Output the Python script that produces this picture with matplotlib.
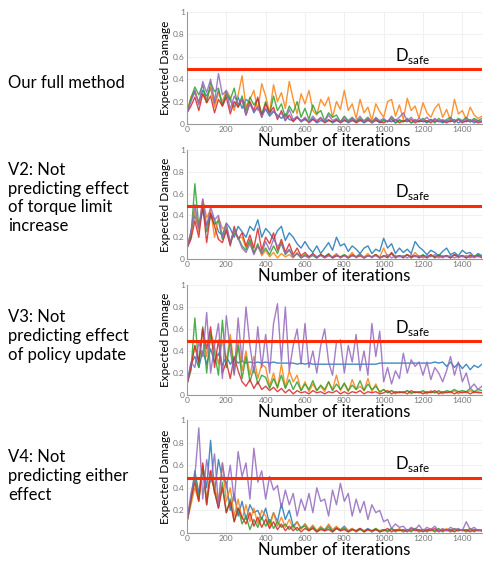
import matplotlib.pyplot as plt

# ================= DATA =================
ITERS = list(range(0, 1501, 20))

PANEL_LABELS = [
    "Our full method",
    "V2: Not\npredicting effect\nof torque limit\nincrease",
    "V3: Not\npredicting effect\nof policy update",
    "V4: Not\npredicting either\neffect",
]

D_SAFE = 0.49

# panel 1: our full method
P1_BLUE = [0.10, 0.22, 0.28, 0.20, 0.30, 0.25, 0.32, 0.18, 0.30, 0.17,
           0.26, 0.21, 0.15, 0.24, 0.14, 0.22, 0.19, 0.10, 0.16, 0.09,
           0.13, 0.07, 0.11, 0.08, 0.05, 0.09, 0.04, 0.03, 0.06, 0.02,
           0.04, 0.02, 0.05, 0.01, 0.03, 0.02, 0.04, 0.01, 0.03, 0.02,
           0.04, 0.01, 0.03, 0.02, 0.04, 0.01, 0.03, 0.02, 0.04, 0.01,
           0.03, 0.02, 0.04, 0.01, 0.03, 0.02, 0.04, 0.01, 0.03, 0.02,
           0.03, 0.01, 0.04, 0.02, 0.03, 0.01, 0.03, 0.02, 0.04, 0.01,
           0.03, 0.02, 0.04, 0.01, 0.03, 0.02]
P1_ORANGE = [0.10, 0.24, 0.30, 0.18, 0.27, 0.22, 0.33, 0.15, 0.28, 0.20,
             0.30, 0.24, 0.12, 0.26, 0.43, 0.15, 0.22, 0.30, 0.12, 0.36,
             0.25, 0.10, 0.35, 0.20, 0.28, 0.14, 0.38, 0.22, 0.09, 0.27,
             0.18, 0.30, 0.12, 0.08, 0.22, 0.16, 0.24, 0.06, 0.20, 0.13,
             0.30, 0.12, 0.18, 0.05, 0.22, 0.10, 0.15, 0.03, 0.18, 0.11,
             0.06, 0.20, 0.22, 0.07, 0.17, 0.04, 0.23, 0.12, 0.16, 0.05,
             0.19, 0.10, 0.06, 0.14, 0.18, 0.06, 0.13, 0.03, 0.22, 0.09,
             0.12, 0.04, 0.15, 0.08, 0.05, 0.07]
P1_GREEN = [0.10, 0.23, 0.33, 0.26, 0.35, 0.19, 0.37, 0.29, 0.32, 0.16,
            0.28, 0.22, 0.32, 0.15, 0.25, 0.12, 0.24, 0.17, 0.22, 0.09,
            0.20, 0.08, 0.25, 0.12, 0.18, 0.06, 0.16, 0.10, 0.20, 0.06,
            0.14, 0.04, 0.17, 0.09, 0.12, 0.03, 0.10, 0.06, 0.08, 0.02,
            0.07, 0.03, 0.06, 0.02, 0.05, 0.03, 0.06, 0.02, 0.05, 0.02,
            0.04, 0.02, 0.06, 0.01, 0.04, 0.02, 0.05, 0.01, 0.04, 0.02,
            0.05, 0.02, 0.04, 0.01, 0.05, 0.02, 0.04, 0.06, 0.02, 0.05,
            0.03, 0.06, 0.02, 0.05, 0.03, 0.05]
P1_RED = [0.10, 0.16, 0.24, 0.12, 0.27, 0.19, 0.25, 0.10, 0.22, 0.16,
          0.24, 0.09, 0.20, 0.15, 0.22, 0.08, 0.20, 0.12, 0.24, 0.06,
          0.18, 0.10, 0.15, 0.04, 0.12, 0.03, 0.08, 0.02, 0.06, 0.03,
          0.05, 0.01, 0.04, 0.02, 0.05, 0.01, 0.03, 0.02, 0.04, 0.01,
          0.03, 0.02, 0.04, 0.01, 0.03, 0.02, 0.04, 0.01, 0.03, 0.02,
          0.01, 0.03, 0.02, 0.04, 0.01, 0.03, 0.02, 0.04, 0.01, 0.03,
          0.02, 0.03, 0.01, 0.04, 0.02, 0.03, 0.01, 0.03, 0.02, 0.04,
          0.01, 0.03, 0.02, 0.03, 0.01, 0.02]
P1_PURPLE = [0.10, 0.20, 0.30, 0.17, 0.38, 0.28, 0.40, 0.20, 0.45, 0.26,
             0.30, 0.13, 0.25, 0.18, 0.22, 0.08, 0.18, 0.11, 0.15, 0.06,
             0.14, 0.09, 0.12, 0.06, 0.10, 0.03, 0.13, 0.04, 0.07, 0.02,
             0.06, 0.02, 0.07, 0.03, 0.06, 0.02, 0.08, 0.03, 0.05, 0.02,
             0.06, 0.02, 0.05, 0.03, 0.07, 0.02, 0.05, 0.01, 0.06, 0.03,
             0.05, 0.02, 0.07, 0.03, 0.06, 0.10, 0.03, 0.06, 0.02, 0.05,
             0.03, 0.06, 0.02, 0.05, 0.02, 0.04, 0.02, 0.05, 0.01, 0.04,
             0.02, 0.05, 0.02, 0.04, 0.02, 0.03]

# panel 2: V2
P2_BLUE = [0.10, 0.25, 0.40, 0.28, 0.45, 0.30, 0.42, 0.36, 0.25, 0.22,
           0.33, 0.28, 0.20, 0.30, 0.25, 0.20, 0.30, 0.26, 0.36, 0.20,
           0.28, 0.24, 0.18, 0.26, 0.30, 0.17, 0.24, 0.20, 0.14, 0.10,
           0.16, 0.10, 0.06, 0.12, 0.05, 0.10, 0.15, 0.08, 0.20, 0.12,
           0.14, 0.07, 0.12, 0.09, 0.05, 0.10, 0.12, 0.05, 0.09, 0.07,
           0.19, 0.10, 0.14, 0.05, 0.10, 0.06, 0.09, 0.05, 0.16, 0.11,
           0.08, 0.04, 0.08, 0.06, 0.03, 0.07, 0.10, 0.04, 0.06, 0.03,
           0.08, 0.05, 0.06, 0.02, 0.05, 0.03]
P2_ORANGE = [0.10, 0.22, 0.45, 0.25, 0.55, 0.38, 0.45, 0.20, 0.38, 0.28,
             0.30, 0.15, 0.26, 0.19, 0.20, 0.10, 0.16, 0.05, 0.12, 0.03,
             0.08, 0.02, 0.06, 0.01, 0.05, 0.02, 0.04, 0.01, 0.06, 0.02,
             0.03, 0.01, 0.05, 0.02, 0.04, 0.01, 0.03, 0.02, 0.05, 0.01,
             0.04, 0.02, 0.06, 0.01, 0.03, 0.02, 0.05, 0.01, 0.04, 0.02,
             0.10, 0.02, 0.05, 0.01, 0.03, 0.02, 0.04, 0.01, 0.06, 0.02,
             0.03, 0.01, 0.04, 0.02, 0.03, 0.01, 0.03, 0.02, 0.04, 0.01,
             0.03, 0.02, 0.04, 0.01, 0.03, 0.02]
P2_GREEN = [0.10, 0.20, 0.69, 0.30, 0.48, 0.25, 0.40, 0.32, 0.35, 0.18,
            0.28, 0.14, 0.24, 0.20, 0.12, 0.08, 0.18, 0.06, 0.14, 0.05,
            0.10, 0.04, 0.12, 0.05, 0.15, 0.04, 0.08, 0.02, 0.05, 0.01,
            0.04, 0.02, 0.03, 0.01, 0.04, 0.02, 0.05, 0.01, 0.03, 0.02,
            0.04, 0.01, 0.03, 0.02, 0.05, 0.01, 0.03, 0.02, 0.04, 0.01,
            0.03, 0.02, 0.05, 0.01, 0.03, 0.02, 0.04, 0.01, 0.03, 0.02,
            0.04, 0.01, 0.03, 0.02, 0.04, 0.02, 0.03, 0.01, 0.04, 0.02,
            0.03, 0.01, 0.03, 0.02, 0.04, 0.02]
P2_RED = [0.10, 0.18, 0.35, 0.20, 0.50, 0.15, 0.42, 0.30, 0.18, 0.15,
          0.26, 0.12, 0.30, 0.18, 0.24, 0.12, 0.22, 0.10, 0.28, 0.08,
          0.20, 0.14, 0.24, 0.08, 0.18, 0.06, 0.14, 0.04, 0.10, 0.03,
          0.06, 0.02, 0.05, 0.01, 0.04, 0.02, 0.04, 0.01, 0.03, 0.02,
          0.03, 0.01, 0.04, 0.02, 0.03, 0.01, 0.03, 0.02, 0.04, 0.01,
          0.03, 0.01, 0.06, 0.02, 0.03, 0.01, 0.04, 0.02, 0.03, 0.01,
          0.03, 0.02, 0.04, 0.01, 0.03, 0.02, 0.03, 0.01, 0.04, 0.02,
          0.03, 0.01, 0.03, 0.02, 0.03, 0.01]
P2_PURPLE = [0.10, 0.25, 0.50, 0.28, 0.55, 0.30, 0.48, 0.36, 0.40, 0.20,
             0.32, 0.15, 0.27, 0.19, 0.10, 0.06, 0.14, 0.04, 0.12, 0.05,
             0.16, 0.08, 0.18, 0.12, 0.14, 0.05, 0.09, 0.02, 0.05, 0.01,
             0.03, 0.01, 0.04, 0.02, 0.03, 0.01, 0.03, 0.02, 0.04, 0.01,
             0.03, 0.01, 0.03, 0.02, 0.04, 0.01, 0.03, 0.02, 0.03, 0.01,
             0.02, 0.04, 0.01, 0.03, 0.02, 0.03, 0.01, 0.04, 0.02, 0.03,
             0.01, 0.03, 0.02, 0.04, 0.01, 0.03, 0.02, 0.03, 0.01, 0.03,
             0.02, 0.03, 0.01, 0.03, 0.02, 0.02]

# panel 3: V3
P3_BLUE = [0.10, 0.28, 0.35, 0.25, 0.40, 0.28, 0.42, 0.30, 0.38, 0.27,
           0.35, 0.28, 0.33, 0.29, 0.31, 0.29, 0.30, 0.29, 0.30, 0.29,
           0.30, 0.29, 0.30, 0.29, 0.29, 0.29, 0.29, 0.29, 0.28, 0.29,
           0.28, 0.29, 0.28, 0.28, 0.28, 0.28, 0.28, 0.28, 0.28, 0.28,
           0.28, 0.28, 0.28, 0.28, 0.28, 0.28, 0.28, 0.28, 0.28, 0.29,
           0.29, 0.29, 0.29, 0.29, 0.29, 0.29, 0.29, 0.29, 0.29, 0.29,
           0.29, 0.29, 0.29, 0.30, 0.29, 0.30, 0.26, 0.30, 0.25, 0.29,
           0.24, 0.28, 0.23, 0.27, 0.25, 0.28]
P3_ORANGE = [0.10, 0.25, 0.45, 0.30, 0.60, 0.35, 0.58, 0.44, 0.28, 0.50,
             0.30, 0.55, 0.25, 0.50, 0.22, 0.40, 0.18, 0.35, 0.15, 0.28,
             0.25, 0.08, 0.20, 0.06, 0.28, 0.07, 0.22, 0.12, 0.18, 0.04,
             0.12, 0.03, 0.10, 0.04, 0.08, 0.03, 0.12, 0.05, 0.18, 0.04,
             0.10, 0.03, 0.14, 0.05, 0.08, 0.04, 0.15, 0.03, 0.10, 0.02,
             0.05, 0.02, 0.04, 0.01, 0.03, 0.02, 0.04, 0.01, 0.03, 0.02,
             0.03, 0.01, 0.04, 0.02, 0.03, 0.01, 0.03, 0.02, 0.04, 0.01,
             0.03, 0.02, 0.04, 0.02, 0.03, 0.02]
P3_GREEN = [0.10, 0.22, 0.70, 0.25, 0.62, 0.20, 0.55, 0.38, 0.18, 0.68,
            0.25, 0.50, 0.20, 0.45, 0.15, 0.35, 0.12, 0.25, 0.10, 0.18,
            0.16, 0.06, 0.15, 0.07, 0.18, 0.06, 0.14, 0.05, 0.12, 0.04,
            0.10, 0.05, 0.13, 0.04, 0.09, 0.05, 0.12, 0.04, 0.10, 0.05,
            0.11, 0.04, 0.09, 0.05, 0.13, 0.04, 0.10, 0.05, 0.08, 0.03,
            0.05, 0.02, 0.04, 0.02, 0.03, 0.02, 0.04, 0.02, 0.03, 0.02,
            0.04, 0.02, 0.03, 0.02, 0.04, 0.02, 0.04, 0.03, 0.05, 0.03,
            0.04, 0.03, 0.06, 0.03, 0.05, 0.04]
P3_RED = [0.10, 0.25, 0.45, 0.30, 0.60, 0.42, 0.62, 0.25, 0.50, 0.20,
          0.30, 0.15, 0.35, 0.22, 0.12, 0.08, 0.14, 0.06, 0.12, 0.05,
          0.08, 0.04, 0.07, 0.03, 0.06, 0.02, 0.05, 0.01, 0.04, 0.02,
          0.03, 0.01, 0.04, 0.02, 0.03, 0.01, 0.03, 0.02, 0.04, 0.01,
          0.03, 0.01, 0.03, 0.02, 0.04, 0.01, 0.03, 0.02, 0.03, 0.01,
          0.02, 0.04, 0.01, 0.03, 0.02, 0.03, 0.01, 0.04, 0.02, 0.03,
          0.01, 0.03, 0.02, 0.04, 0.01, 0.03, 0.02, 0.03, 0.01, 0.03,
          0.02, 0.03, 0.01, 0.03, 0.02, 0.02]
P3_PURPLE = [0.10, 0.30, 0.25, 0.48, 0.35, 0.75, 0.20, 0.45, 0.65, 0.15,
             0.72, 0.40, 0.18, 0.70, 0.30, 0.80, 0.45, 0.20, 0.62, 0.25,
             0.55, 0.20, 0.65, 0.83, 0.30, 0.80, 0.22, 0.45, 0.60, 0.28,
             0.65, 0.25, 0.40, 0.20, 0.45, 0.60, 0.30, 0.18, 0.48, 0.50,
             0.20, 0.45, 0.30, 0.55, 0.22, 0.40, 0.18, 0.65, 0.35, 0.58,
             0.12, 0.25, 0.10, 0.22, 0.15, 0.38, 0.20, 0.32, 0.26, 0.30,
             0.18, 0.30, 0.14, 0.25, 0.20, 0.12, 0.22, 0.35, 0.18, 0.30,
             0.12, 0.20, 0.06, 0.10, 0.05, 0.08]

# panel 4: V4
P4_BLUE = [0.10, 0.30, 0.55, 0.35, 0.60, 0.40, 0.82, 0.35, 0.65, 0.48,
           0.45, 0.20, 0.35, 0.15, 0.28, 0.12, 0.25, 0.18, 0.20, 0.12,
           0.22, 0.08, 0.18, 0.10, 0.26, 0.12, 0.20, 0.06, 0.10, 0.04,
           0.08, 0.03, 0.06, 0.02, 0.05, 0.03, 0.07, 0.02, 0.05, 0.03,
           0.06, 0.02, 0.04, 0.01, 0.03, 0.02, 0.04, 0.01, 0.03, 0.02,
           0.03, 0.01, 0.04, 0.02, 0.03, 0.01, 0.03, 0.02, 0.04, 0.01,
           0.03, 0.02, 0.03, 0.01, 0.03, 0.02, 0.03, 0.01, 0.03, 0.02,
           0.03, 0.01, 0.03, 0.02, 0.03, 0.02]
P4_ORANGE = [0.10, 0.25, 0.40, 0.28, 0.60, 0.30, 0.55, 0.42, 0.25, 0.62,
             0.28, 0.40, 0.15, 0.30, 0.12, 0.25, 0.10, 0.22, 0.08, 0.20,
             0.15, 0.05, 0.18, 0.06, 0.14, 0.05, 0.12, 0.04, 0.10, 0.03,
             0.08, 0.03, 0.07, 0.02, 0.06, 0.02, 0.08, 0.03, 0.06, 0.02,
             0.05, 0.02, 0.04, 0.01, 0.04, 0.02, 0.03, 0.01, 0.04, 0.02,
             0.03, 0.01, 0.03, 0.02, 0.04, 0.01, 0.03, 0.02, 0.03, 0.01,
             0.03, 0.02, 0.04, 0.01, 0.03, 0.02, 0.04, 0.01, 0.03, 0.02,
             0.03, 0.01, 0.03, 0.02, 0.03, 0.02]
P4_GREEN = [0.10, 0.28, 0.50, 0.30, 0.58, 0.25, 0.50, 0.38, 0.22, 0.45,
            0.18, 0.30, 0.10, 0.22, 0.08, 0.15, 0.03, 0.12, 0.05, 0.14,
            0.06, 0.12, 0.04, 0.10, 0.05, 0.08, 0.03, 0.07, 0.02, 0.05,
            0.06, 0.02, 0.05, 0.01, 0.04, 0.02, 0.05, 0.01, 0.04, 0.02,
            0.04, 0.01, 0.03, 0.02, 0.04, 0.01, 0.03, 0.02, 0.04, 0.01,
            0.03, 0.02, 0.04, 0.01, 0.03, 0.02, 0.03, 0.01, 0.04, 0.02,
            0.03, 0.01, 0.03, 0.02, 0.04, 0.01, 0.03, 0.02, 0.04, 0.02,
            0.03, 0.02, 0.04, 0.01, 0.03, 0.02]
P4_RED = [0.10, 0.30, 0.45, 0.28, 0.62, 0.25, 0.55, 0.36, 0.22, 0.40,
          0.18, 0.28, 0.10, 0.22, 0.14, 0.08, 0.18, 0.06, 0.14, 0.05,
          0.12, 0.04, 0.10, 0.03, 0.08, 0.02, 0.06, 0.02, 0.05, 0.01,
          0.04, 0.02, 0.04, 0.01, 0.03, 0.02, 0.03, 0.01, 0.04, 0.02,
          0.03, 0.01, 0.03, 0.02, 0.04, 0.01, 0.03, 0.02, 0.03, 0.01,
          0.02, 0.04, 0.01, 0.03, 0.02, 0.03, 0.01, 0.04, 0.02, 0.03,
          0.01, 0.03, 0.02, 0.04, 0.01, 0.03, 0.02, 0.03, 0.01, 0.03,
          0.02, 0.03, 0.01, 0.03, 0.02, 0.02]
P4_PURPLE = [0.10, 0.35, 0.50, 0.93, 0.30, 0.65, 0.45, 0.70, 0.25, 0.62,
             0.40, 0.60, 0.28, 0.72, 0.50, 0.62, 0.30, 0.75, 0.45, 0.55,
             0.30, 0.50, 0.38, 0.42, 0.22, 0.38, 0.25, 0.35, 0.15, 0.30,
             0.20, 0.35, 0.18, 0.40, 0.28, 0.30, 0.15, 0.38, 0.25, 0.44,
             0.28, 0.35, 0.15, 0.30, 0.18, 0.28, 0.12, 0.25, 0.18, 0.20,
             0.10, 0.12, 0.04, 0.08, 0.05, 0.06, 0.02, 0.05, 0.03, 0.07,
             0.02, 0.05, 0.03, 0.06, 0.02, 0.04, 0.02, 0.05, 0.03, 0.04,
             0.02, 0.10, 0.03, 0.05, 0.02, 0.03]

PANELS = [
    [P1_BLUE, P1_ORANGE, P1_GREEN, P1_RED, P1_PURPLE],
    [P2_BLUE, P2_ORANGE, P2_GREEN, P2_RED, P2_PURPLE],
    [P3_BLUE, P3_ORANGE, P3_GREEN, P3_RED, P3_PURPLE],
    [P4_BLUE, P4_ORANGE, P4_GREEN, P4_RED, P4_PURPLE],
]

COLORS = ["#1f77b4", "#ff7f0e", "#2ca02c", "#d62728", "#9467bd"]

# ================= LAYOUT =================
W, H = 483, 561
# axes boxes in pixels: (left, top, right, bottom)
BOXES = [(187, 12, 482, 124), (187, 150, 482, 259),
         (187, 285, 482, 395), (187, 420, 482, 533)]
LABEL_Y = [83, 198, 336, 476]

plt.rcParams["font.family"] = ["Lato", "DejaVu Sans"]

fig = plt.figure(figsize=(W / 100, H / 100), dpi=100)

for k, (l, t, r, b) in enumerate(BOXES):
    ax = fig.add_axes([l / W, 1 - b / H, (r - l) / W, (b - t) / H])
    for series, c in zip(PANELS[k], COLORS):
        ax.plot(ITERS, series, color=c, lw=1.0, alpha=0.85)
    ax.axhline(D_SAFE, color="#ff2a00", lw=2.2, zorder=5)
    ax.text(1060, D_SAFE + 0.03, r"D$_\mathregular{safe}$", fontsize=12,
            ha="left", va="bottom")

    ax.set_xlim(0, 1500)
    ax.set_ylim(0, 1)
    ax.set_xticks(range(0, 1401, 200))
    ax.set_yticks([0, 0.2, 0.4, 0.6, 0.8, 1])
    ax.set_yticklabels(["0", "0.2", "0.4", "0.6", "0.8", "1"])
    ax.tick_params(length=0, labelsize=6, labelcolor="#777777", pad=1.5)
    ax.grid(color="#eeeeee", lw=0.6)
    ax.set_axisbelow(True)
    for s in ["top", "right"]:
        ax.spines[s].set_visible(False)
    for s in ["left", "bottom"]:
        ax.spines[s].set_color("#999999")
        ax.spines[s].set_linewidth(0.8)
    ax.set_xlabel("Number of iterations", fontsize=12, labelpad=0)
    ax.set_ylabel("Expected Damage", fontsize=8.5, labelpad=1.5)

    fig.text(8 / W, 1 - LABEL_Y[k] / H, PANEL_LABELS[k], fontsize=12,
             ha="left", va="center", linespacing=1.2)

plt.savefig("out.png", dpi=100)
